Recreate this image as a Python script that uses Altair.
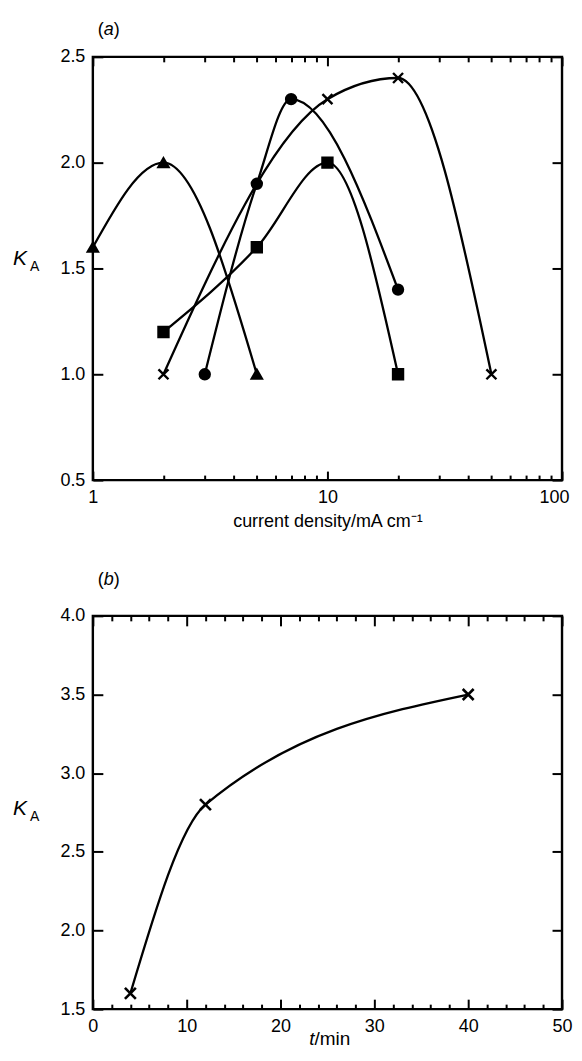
import altair as alt
import pandas as pd

# ---------------- panel (a): K_A vs current density ----------------
series_names = ["triangle", "square", "circle", "cross"]
tri_cd = [1, 2, 5]
tri_ka = [1.6, 2.0, 1.0]
sq_cd = [2, 5, 10, 20]
sq_ka = [1.2, 1.6, 2.0, 1.0]
cir_cd = [3, 5, 7, 20]
cir_ka = [1.0, 1.9, 2.3, 1.4]
crs_cd = [2, 10, 20, 50]
crs_ka = [1.0, 2.3, 2.4, 1.0]

a_x_major = [1, 10, 100]
a_x_minor = [2, 3, 4, 5, 6, 7, 8, 9, 20, 30, 40, 50, 60, 70, 80, 90]
a_y_ticks = [0.5, 1.0, 1.5, 2.0, 2.5]

# ---------------- panel (b): K_A vs time ----------------
b_t = [4, 12, 40]
b_ka = [1.6, 2.8, 3.5]
b_x_major = [0, 10, 20, 30, 40, 50]
b_x_minor = [2, 4, 6, 8, 12, 14, 16, 18, 22, 24, 26, 28, 32, 34, 36, 38, 42, 44, 46, 48]
b_y_ticks = [1.5, 2.0, 2.5, 3.0, 3.5, 4.0]

FONT = "Liberation Sans"
CROSS = "M-1,-1L1,1M-1,1L1,-1"
LABEL_SIZE = 18

rows = []
for name, xs, ys in zip(series_names, [tri_cd, sq_cd, cir_cd, crs_cd], [tri_ka, sq_ka, cir_ka, crs_ka]):
    for xv, yv in zip(xs, ys):
        rows.append({"series": name, "cd": xv, "ka": yv})
df_a = pd.DataFrame(rows)
df_b = pd.DataFrame({"t": b_t, "ka": b_ka})
one = pd.DataFrame({"k": [0]})


def axis(orient, values, size, labels=True, fmt=None, title=None, **kw):
    args = dict(orient=orient, values=values, tickSize=size, offset=-size, labels=labels,
                domain=False, grid=False, title=title, labelFlush=False, labelPadding=8,
                tickColor="black", tickWidth=2, labelColor="black", labelFontSize=LABEL_SIZE,
                labelFont=FONT)
    if fmt:
        args["format"] = fmt
    args.update(kw)
    return alt.Axis(**args)


def txt(s, x, y, size, italic=False, align="left"):
    props = dict(text=s, font=FONT, fontSize=size, align=align, baseline="alphabetic", color="black")
    if italic:
        props["fontStyle"] = "italic"
    return alt.Chart(one).mark_text(**props).encode(x=alt.value(x), y=alt.value(y))


def ka_label(y_rel):
    return [txt("K", -80, y_rel, 21, italic=True), txt("A", -63, y_rel + 6, 14)]


def panel_tag(letter, y_rel):
    return [txt("(", 5, y_rel, 18), txt(letter, 11, y_rel, 18, italic=True),
            txt(")", 21, y_rel, 18)]


# ---- panel (a) ----
W_A, H_A = 470, 424
sx_a = alt.Scale(type="log", domain=[1, 100], nice=False)
sy_a = alt.Scale(domain=[0.5, 2.5], nice=False, zero=False)

lines_a = alt.Chart(df_a).mark_line(interpolate="monotone", color="black", strokeWidth=2.3).encode(
    x=alt.X("cd:Q", scale=sx_a,
            axis=axis("bottom", a_x_major, 9, title="current density/mA cm\u207b\u00b9",
                      titleFont=FONT, titleFontSize=18, titleFontWeight="normal",
                      titleColor="black", titlePadding=6,
                      labelOffset={"condition": {"test": "datum.value >= 100", "value": -8},
                                   "value": 0})),
    y=alt.Y("ka:Q", scale=sy_a, axis=axis("left", a_y_ticks, 10, fmt=".1f")),
    detail="series:N",
)
points_a = alt.Chart(df_a).mark_point(fill="black", stroke="black", strokeWidth=2.4,
                                      opacity=1, fillOpacity=1, size=100).encode(
    x=alt.X("cd:Q", scale=sx_a, axis=axis("top", a_x_major, 9, labels=False)),
    y=alt.Y("ka:Q", scale=sy_a, axis=axis("right", a_y_ticks, 10, labels=False)),
    shape=alt.Shape("series:N", scale=alt.Scale(domain=series_names,
                                                range=["triangle-up", "square", "circle", CROSS]),
                    legend=None),
)
minor_bottom_a = alt.Chart(df_a).mark_point(opacity=0).encode(
    x=alt.X("cd:Q", scale=sx_a, axis=axis("bottom", a_x_minor, 5, labels=False)),
    y=alt.Y("ka:Q", scale=sy_a, axis=None),
)
minor_top_a = alt.Chart(df_a).mark_point(opacity=0).encode(
    x=alt.X("cd:Q", scale=sx_a, axis=axis("top", a_x_minor, 5, labels=False)),
    y=alt.Y("ka:Q", scale=sy_a, axis=None),
)
panel_a = alt.layer(lines_a, points_a, minor_bottom_a, minor_top_a,
                    *ka_label(209), *panel_tag("a", -22)).resolve_axis(
    x="independent", y="independent"
).properties(width=W_A, height=H_A)

# ---- panel (b) ----
W_B, H_B = 470, 394
sx_b = alt.Scale(domain=[0, 50], nice=False, zero=False)
sy_b = alt.Scale(domain=[1.5, 4.0], nice=False, zero=False)

line_b = alt.Chart(df_b).mark_line(interpolate="monotone", color="black", strokeWidth=2.3).encode(
    x=alt.X("t:Q", scale=sx_b, axis=axis("bottom", b_x_major, 10)),
    y=alt.Y("ka:Q", scale=sy_b, axis=axis("left", b_y_ticks, 10, fmt=".1f")),
)
points_b = alt.Chart(df_b).mark_point(shape=CROSS, stroke="black", strokeWidth=2.6,
                                      opacity=1, size=120).encode(
    x=alt.X("t:Q", scale=sx_b, axis=axis("top", b_x_major, 10, labels=False)),
    y=alt.Y("ka:Q", scale=sy_b, axis=axis("right", b_y_ticks, 10, labels=False)),
)
minor_bottom_b = alt.Chart(df_b).mark_point(opacity=0).encode(
    x=alt.X("t:Q", scale=sx_b, axis=axis("bottom", b_x_minor, 5, labels=False)),
    y=alt.Y("ka:Q", scale=sy_b, axis=None),
)
minor_top_b = alt.Chart(df_b).mark_point(opacity=0).encode(
    x=alt.X("t:Q", scale=sx_b, axis=axis("top", b_x_minor, 5, labels=False)),
    y=alt.Y("ka:Q", scale=sy_b, axis=None),
)
t_title = [txt("t", W_B / 2 - 13, H_B + 36, 19, italic=True, align="right"),
           txt("/min", W_B / 2 - 13, H_B + 36, 19)]

panel_b = alt.layer(line_b, points_b, minor_bottom_b, minor_top_b,
                    *ka_label(200), *panel_tag("b", -31), *t_title).resolve_axis(
    x="independent", y="independent"
).properties(width=W_B, height=H_B)

chart = alt.vconcat(panel_a, panel_b, spacing=37).properties(
    padding={"left": 3, "top": 10, "right": 0, "bottom": 0}
).configure(
    background="white"
).configure_view(
    stroke="black", strokeWidth=2.4
)

chart.save("out.html", embed_options={"renderer": "svg", "actions": False})
